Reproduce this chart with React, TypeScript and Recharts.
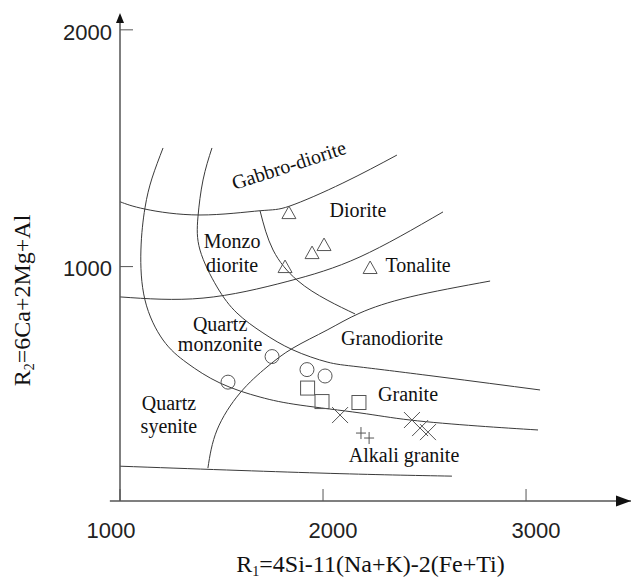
import { ComposedChart, Line, Scatter, XAxis, YAxis, ReferenceDot, ReferenceLine, Label } from 'recharts'

// R1-R2 classification diagram (De la Roche et al.)

const INK = '#3a3a3a'
const AXIS = '#555'
const SERIF = '"Liberation Serif", "Times New Roman", serif'
const SANS = '"Liberation Sans", Arial, sans-serif'

const xTicks = [1000, 2000, 3000]
const yTicks = [1000, 2000]

// field boundaries, [R1, R2]
const gabbroDioriteBase = [[1000, 1274], [1123, 1243], [1394, 1218], [1690, 1236], [1837, 1256], [2098, 1353], [2364, 1471]]
const dioriteBase = [[1000, 872], [1409, 867], [1823, 937], [2182, 1041], [2591, 1231]]
const tonaliteBase = [[1433, 149], [1478, 310], [1591, 466], [1724, 576], [1852, 656], [2020, 732], [2182, 804], [2429, 872], [2823, 939]]
const outerArc = [[1212, 1501], [1158, 1374], [1123, 1248], [1103, 1070], [1123, 859], [1212, 690], [1330, 593], [1493, 508], [1690, 449], [1887, 415], [2182, 382], [2429, 352], [2759, 327], [3059, 310]]
const innerArc = [[1453, 1501], [1409, 1366], [1384, 1210], [1394, 1070], [1478, 914], [1576, 804], [1704, 720], [1852, 648], [2020, 597], [2182, 576], [2576, 534], [3069, 479]]
const monzoArc = [[1690, 1235], [1754, 1070], [1872, 943], [2020, 859], [2158, 800]]
const alkaliBase = [[1000, 157], [1985, 128], [2635, 115]]

// samples
const triangles = [[1832, 1226], [1813, 998], [1946, 1057], [2005, 1091], [2232, 994]]
const circles = [[1532, 512], [1749, 620], [1921, 565], [2010, 538]]
const squares = [[1924, 487], [1995, 430], [2177, 426]]
const crosses = [[2084, 373], [2438, 352], [2478, 318], [2517, 301]]
const pluses = [[2187, 297], [2227, 276]]

const fieldNames = ['Gabbro-diorite', 'Diorite', 'Tonalite', 'Monzo', 'diorite', 'Quartz', 'monzonite', 'Granodiorite', 'Granite', 'Alkali granite', 'Quartz', 'syenite']
const fieldX = [1832, 2172, 2468, 1552, 1552, 1493, 1493, 2340, 2419, 2399, 1241, 1241]
const fieldY = [1429, 1239, 1007, 1108, 1007, 758, 673, 698, 462, 204, 424, 327]
const fieldAngle = [-18, 0, 0, 0, 0, 0, 0, 0, 0, 0, 0, 0]

const pts = (arr: number[][]) => arr.map(([x, y]) => ({ x, y }))
const fieldLabels = fieldNames.map((name, i) => ({ x: fieldX[i], y: fieldY[i], name, angle: fieldAngle[i] }))

const curves = [gabbroDioriteBase, dioriteBase, tonaliteBase, outerArc, innerArc, monzoArc, alkaliBase]

function Triangle({ cx, cy }: any) {
  return <path d={`M${cx},${cy - 7} L${cx - 7},${cy + 5.5} L${cx + 7},${cy + 5.5} Z`} fill="none" stroke={AXIS} strokeWidth={1} />
}
function Ring({ cx, cy }: any) {
  return <circle cx={cx} cy={cy} r={7} fill="none" stroke={AXIS} strokeWidth={1} />
}
function Box({ cx, cy }: any) {
  return <rect x={cx - 7} y={cy - 7} width={14} height={14} fill="none" stroke={AXIS} strokeWidth={1} />
}
function Cross({ cx, cy }: any) {
  return <path d={`M${cx - 8},${cy - 8} L${cx + 8},${cy + 8} M${cx + 8},${cy - 8} L${cx - 8},${cy + 8}`} stroke={AXIS} strokeWidth={1} />
}
function PlusMark({ cx, cy }: any) {
  return <path d={`M${cx - 5},${cy} L${cx + 5},${cy} M${cx},${cy - 6} L${cx},${cy + 6}`} stroke={AXIS} strokeWidth={1} />
}
function FieldText({ cx, cy, payload }: any) {
  return (
    <text x={cx} y={cy} dy="0.35em" textAnchor="middle" fontFamily={SERIF} fontSize={20} fill="#111"
      transform={payload.angle ? `rotate(${payload.angle} ${cx} ${cy})` : undefined}>
      {payload.name}
    </text>
  )
}

function XTick({ x, y, payload }: any) {
  const shift = payload.value === 1000 ? -9 : 10
  return (
    <g>
      <line x1={x} y1={y} x2={x} y2={y - 12} stroke={AXIS} strokeWidth={1} />
      <text x={x + shift} y={y + 37} textAnchor="middle" fontFamily={SANS} fontSize={22} fill="#222">{payload.value}</text>
    </g>
  )
}
function YTick({ x, y, payload }: any) {
  return (
    <g>
      <line x1={x} y1={y} x2={x + 13} y2={y} stroke={AXIS} strokeWidth={1} />
      <text x={x - 8} y={y + 2} dy="0.35em" textAnchor="end" fontFamily={SANS} fontSize={22} fill="#222">{payload.value}</text>
    </g>
  )
}

function XTitle({ viewBox }: any) {
  const cx = viewBox.x + viewBox.width / 2 - 5
  return (
    <text x={cx} y={viewBox.y + 71} textAnchor="middle" fontFamily={SERIF} fontSize={24} fill="#111">
      R<tspan fontSize={14} dy={4}>1</tspan><tspan dy={-4}>=4Si-11(Na+K)-2(Fe+Ti)</tspan>
    </text>
  )
}
function YTitle({ viewBox }: any) {
  const cx = 30
  const cy = viewBox.y + viewBox.height / 2 + 41
  return (
    <text x={cx} y={cy} textAnchor="middle" fontFamily={SERIF} fontSize={24} fill="#111" transform={`rotate(-90 ${cx} ${cy})`}>
      R<tspan fontSize={14} dy={4}>2</tspan><tspan dy={-4}>=6Ca+2Mg+Al</tspan>
    </text>
  )
}

function ArrowUp({ cx, cy }: any) {
  return <path d={`M${cx},${cy - 5} L${cx - 4},${cy + 5} L${cx + 4},${cy + 5} Z`} fill="#111" />
}
function ArrowRight({ cx, cy }: any) {
  return <path d={`M${cx},${cy} L${cx - 15},${cy - 5.5} L${cx - 15},${cy + 5.5} Z`} fill="#111" />
}

export default function App() {
  return (
    <div style={{ position: 'absolute', left: 0, top: 0, width: 631, height: 581, background: '#fff' }}>
      <ComposedChart width={631} height={581} margin={{ top: 18, right: 0, bottom: 0, left: 0 }}>
        <XAxis type="number" dataKey="x" domain={[1000, 3517]} allowDataOverflow ticks={xTicks}
          height={80} tickSize={0} tickMargin={0} tick={<XTick />} axisLine={{ stroke: AXIS, strokeWidth: 1.5 }}>
          <Label content={<XTitle />} />
        </XAxis>
        <YAxis type="number" dataKey="y" domain={[10, 2050]} allowDataOverflow ticks={yTicks}
          width={120} tickSize={0} tickMargin={0} tick={<YTick />} axisLine={{ stroke: AXIS, strokeWidth: 1.5 }}>
          <Label content={<YTitle />} />
        </YAxis>
        <ReferenceLine segment={[{ x: 950, y: 10 }, { x: 1000, y: 10 }]} stroke={AXIS} strokeWidth={1.5} ifOverflow="visible" />
        <ReferenceDot x={1000} y={2050} ifOverflow="visible" shape={<ArrowUp />} />
        <ReferenceDot x={3517} y={10} ifOverflow="visible" shape={<ArrowRight />} />
        {curves.map((c, i) => (
          <Line key={i} data={pts(c)} dataKey="y" type="natural" stroke={INK} strokeWidth={1}
            dot={false} activeDot={false} isAnimationActive={false} />
        ))}
        <Scatter data={pts(triangles)} dataKey="y" shape={<Triangle />} isAnimationActive={false} />
        <Scatter data={pts(circles)} dataKey="y" shape={<Ring />} isAnimationActive={false} />
        <Scatter data={pts(squares)} dataKey="y" shape={<Box />} isAnimationActive={false} />
        <Scatter data={pts(crosses)} dataKey="y" shape={<Cross />} isAnimationActive={false} />
        <Scatter data={pts(pluses)} dataKey="y" shape={<PlusMark />} isAnimationActive={false} />
        <Scatter data={fieldLabels} dataKey="y" shape={<FieldText />} isAnimationActive={false} />
      </ComposedChart>
    </div>
  )
}
